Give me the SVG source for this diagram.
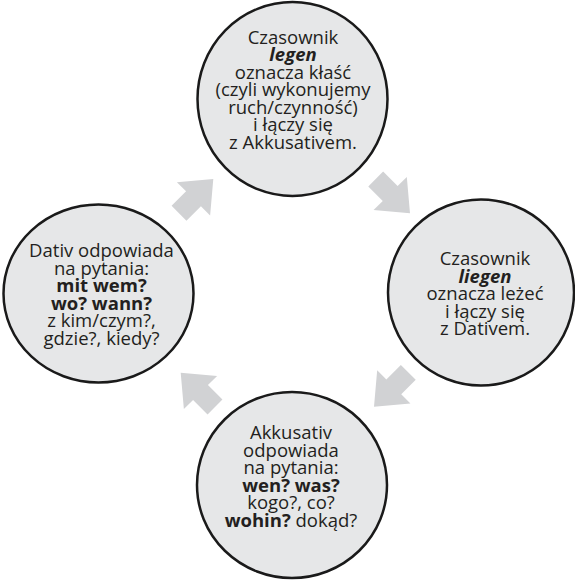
<svg xmlns="http://www.w3.org/2000/svg" width="575" height="581" viewBox="0 0 575 581">
<defs>
<style>
.node{fill:#e6e7e8;stroke:#1a1a1a;stroke-width:2.5}
.t{font-family:"Open Sans","Noto Sans","Liberation Sans",sans-serif;font-size:18.5px;fill:#231f20;text-anchor:middle}
.b{font-weight:bold}
.bi{font-weight:bold;font-style:italic}
.arr{fill:#d1d2d4}
</style>
<path id="arrow" d="M0,0 L-28,-23.5 L-28,-10.5 L-48.5,-10.5 L-48.5,10.5 L-28,10.5 L-28,23.5 Z"/>
</defs>
<g id="connectors" class="arr">
<use href="#arrow" transform="translate(213.3,179) rotate(-45)"/>
<use href="#arrow" transform="translate(410,213.3) rotate(45)"/>
<use href="#arrow" transform="translate(374,406.7) rotate(135)"/>
<use href="#arrow" transform="translate(180.7,372.7) rotate(-135)"/>
</g>
<g id="node-top">
<ellipse class="node" cx="292.5" cy="99" rx="95" ry="97"/>
<text class="t" x="293" y="43.5">Czasownik</text>
<text class="t bi" x="293" y="61">legen</text>
<text class="t" x="293" y="78.5">oznacza kłaść</text>
<text class="t" x="293" y="96">(czyli wykonujemy</text>
<text class="t" x="293" y="113.5">ruch/czynność)</text>
<text class="t" x="293" y="131">i łączy się</text>
<text class="t" x="293" y="148.5">z Akkusativem.</text>
</g>
<g id="node-right">
<ellipse class="node" cx="481" cy="292.5" rx="93" ry="93"/>
<text class="t" x="485" y="265">Czasownik</text>
<text class="t bi" x="485" y="282.5">liegen</text>
<text class="t" x="485" y="300">oznacza leżeć</text>
<text class="t" x="485" y="317.5">i łączy się</text>
<text class="t" x="485" y="335">z Dativem.</text>
</g>
<g id="node-bottom">
<ellipse class="node" cx="292" cy="485" rx="95" ry="93"/>
<text class="t" x="291" y="439">Akkusativ</text>
<text class="t" x="291" y="456.5">odpowiada</text>
<text class="t" x="291" y="474">na pytania:</text>
<text class="t b" x="291" y="491.5">wen? was?</text>
<text class="t" x="291" y="509">kogo?, co?</text>
<text class="t" x="291" y="526.5"><tspan class="b">wohin?</tspan> dokąd?</text>
</g>
<g id="node-left">
<ellipse class="node" cx="98.5" cy="293.5" rx="95" ry="89"/>
<text class="t" x="101.5" y="257">Dativ odpowiada</text>
<text class="t" x="101.5" y="274.5">na pytania:</text>
<text class="t b" x="101.5" y="292">mit wem?</text>
<text class="t b" x="101.5" y="309.5">wo? wann?</text>
<text class="t" x="101.5" y="327">z kim/czym?,</text>
<text class="t" x="101.5" y="344.5">gdzie?, kiedy?</text>
</g>
</svg>
